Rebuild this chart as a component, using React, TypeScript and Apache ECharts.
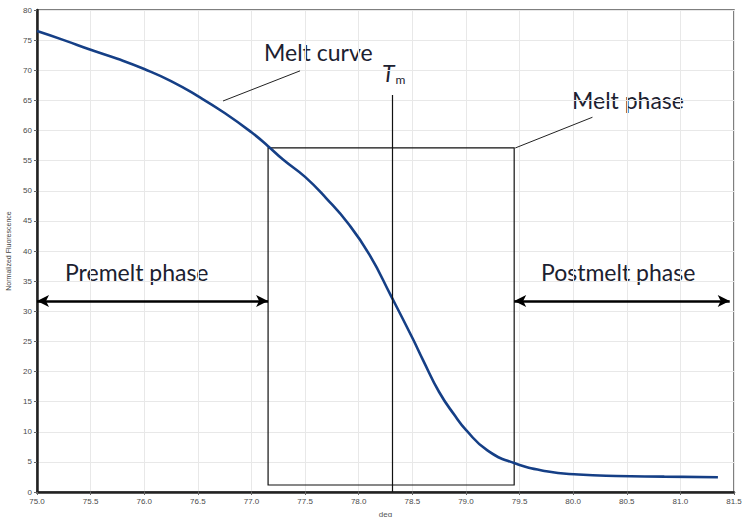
import React, { useEffect, useRef } from "react";
import * as echarts from "echarts";

// Temperature (deg) vs normalized fluorescence
const temps = [75.0, 75.25, 75.5, 75.75, 76.0, 76.25, 76.5, 76.75, 77.0, 77.155, 77.3, 77.5, 77.7, 77.9, 78.1, 78.3, 78.5, 78.6, 78.75, 78.9, 79.0, 79.2, 79.45, 79.75, 80.05, 80.4, 80.85, 81.35];
const fluor = [76.5, 75.0, 73.4, 71.9, 70.2, 68.2, 65.7, 62.9, 59.7, 57.4, 55.1, 52.3, 48.7, 44.6, 39.4, 32.6, 25.6, 21.9, 16.6, 12.6, 10.3, 6.9, 4.8, 3.45, 2.9, 2.65, 2.55, 2.45];

const xTicks = { min: 75, max: 81.5, step: 0.5 };
const yTicks = { min: 0, max: 80, step: 5 };

// annotation anchors (data coordinates)
const tm = 78.31;
const tmTop = 65.9;
const meltBox = { x0: 77.155, x1: 79.45, y0: 1.16, y1: 57.1 };
const arrowLevel = 31.7;
const premelt = [75.0, 77.155];
const postmelt = [79.45, 81.46];
const meltCurveLeader = [[76.735, 64.9], [77.453, 69.9]];
const meltPhaseLeader = [[79.46, 57.1], [80.18, 62.2]];

const labelFont = "Lato, 'Open Sans', sans-serif";
const labelColor = "#1c2130";
const tickFont = "'Liberation Sans', Arial, sans-serif";

export default function App() {
  const ref = useRef<HTMLDivElement>(null);
  useEffect(() => {
    if (!ref.current) return;
    const chart = echarts.init(ref.current, undefined, { renderer: "svg" });
    const data = temps.map((t, i) => [t, fluor[i]]);
    const thin = { color: "#111", width: 1.2, type: "solid" as const };
    const leader = { color: "#222", width: 1, type: "solid" as const };
    const arrow = { color: "#000", width: 2.5, type: "solid" as const };
    chart.setOption({
      animation: false,
      backgroundColor: "#fff",
      grid: {
        left: 37,
        right: 14,
        top: 10,
        bottom: 25,
        outerBoundsMode: "none",
        containLabel: false,
        show: true,
        borderColor: "#555",
        borderWidth: 1.5,
      },
      xAxis: {
        type: "value",
        min: xTicks.min,
        max: xTicks.max,
        interval: xTicks.step,
        name: "deg",
        nameLocation: "middle",
        nameGap: 18,
        nameTextStyle: { fontSize: 8, color: "#555", fontFamily: tickFont },
        axisLine: { show: true, onZero: false, lineStyle: { color: "#222", width: 2.5 } },
        axisTick: { show: true, length: 3, lineStyle: { color: "#666" } },
        axisLabel: {
          fontSize: 8,
          color: "#4a4a4a",
          margin: 5,
          fontFamily: tickFont,
          formatter: (v: number) => v.toFixed(1),
        },
        splitLine: { show: true, lineStyle: { color: "#e8e8e8", width: 1 } },
      },
      yAxis: {
        type: "value",
        min: yTicks.min,
        max: yTicks.max,
        interval: yTicks.step,
        name: "Normalized Fluorescence",
        nameLocation: "middle",
        nameGap: 25,
        nameTextStyle: { fontSize: 7, color: "#444", fontFamily: tickFont },
        axisLine: { show: true, lineStyle: { color: "#222", width: 2.5 } },
        axisTick: { show: true, length: 3, lineStyle: { color: "#666" } },
        axisLabel: { fontSize: 8, color: "#4a4a4a", margin: 5, fontFamily: tickFont },
        splitLine: { show: true, lineStyle: { color: "#e8e8e8", width: 1 } },
      },
      series: [
        {
          type: "line",
          data,
          smooth: 0.5,
          showSymbol: false,
          lineStyle: { color: "#153f86", width: 2.6 },
          z: 3,
          markArea: {
            silent: true,
            itemStyle: { color: "rgba(0,0,0,0)", borderColor: "#111", borderWidth: 1.2 },
            label: { show: false },
            data: [[{ coord: [meltBox.x0, meltBox.y0] }, { coord: [meltBox.x1, meltBox.y1] }]],
          },
          markLine: {
            silent: true,
            symbol: "none",
            label: { show: false },
            lineStyle: { type: "solid" },
            data: [
              [
                { coord: [tm, 0], symbol: "none", lineStyle: thin },
                { coord: [tm, tmTop], symbol: "none" },
              ],
              [
                { coord: [premelt[0], arrowLevel], symbol: "arrow", symbolSize: [9, 12], lineStyle: arrow },
                { coord: [premelt[1], arrowLevel], symbol: "arrow", symbolSize: [9, 12] },
              ],
              [
                { coord: [postmelt[0], arrowLevel], symbol: "arrow", symbolSize: [9, 12], lineStyle: arrow },
                { coord: [postmelt[1], arrowLevel], symbol: "arrow", symbolSize: [9, 12] },
              ],
              [
                { coord: meltCurveLeader[0], symbol: "none", lineStyle: leader },
                { coord: meltCurveLeader[1], symbol: "none" },
              ],
              [
                { coord: meltPhaseLeader[0], symbol: "none", lineStyle: leader },
                { coord: meltPhaseLeader[1], symbol: "none" },
              ],
            ],
          },
        },
      ],
      graphic: [
        { type: "text", left: 264, top: 40, style: { text: "Melt curve", font: `23px ${labelFont}`, fill: labelColor } },
        { type: "text", left: 572, top: 88, style: { text: "Melt phase", font: `23px ${labelFont}`, fill: labelColor } },
        { type: "text", left: 65, top: 260, style: { text: "Premelt phase", font: `23px ${labelFont}`, fill: labelColor } },
        { type: "text", left: 541, top: 260, style: { text: "Postmelt phase", font: `23px ${labelFont}`, fill: labelColor } },
        {
          type: "text",
          left: 382,
          top: 61,
          style: {
            text: "{t|T}{m|m}",
            rich: {
              t: { font: `italic 23px ${labelFont}`, fill: labelColor },
              m: { font: `12px ${labelFont}`, fill: labelColor, padding: [14, 0, 0, 1] },
            },
          },
        },
      ],
    });
    return () => chart.dispose();
  }, []);
  return <div ref={ref} style={{ position: "fixed", left: 0, top: 0, width: 748, height: 517 }} />;
}
